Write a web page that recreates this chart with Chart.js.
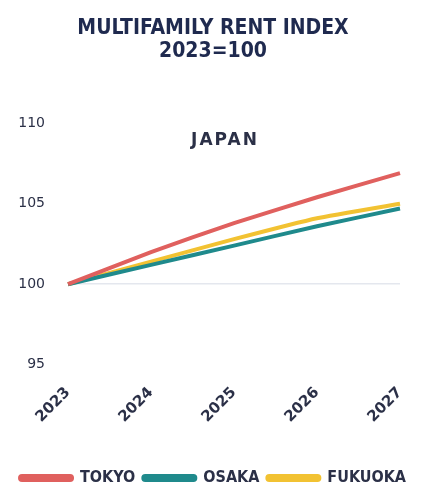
<!DOCTYPE html>
<html>
<head>
<meta charset="utf-8">
<script src="https://cdn.jsdelivr.net/npm/chart.js@4"></script>
<style>
  html, body { margin: 0; padding: 0; background: #fff; }
  #wrap { width: 426px; height: 492px; }
</style>
</head>
<body>
<div id="wrap"><canvas id="rentChart"></canvas></div>
<script>
const years = ['2023', '2024', '2025', '2026', '2027'];
const tokyo = [100, 102.0, 103.8, 105.4, 106.9];
const osaka = [100, 101.2, 102.4, 103.6, 104.7];
const fukuoka = [100, 101.4, 102.8, 104.1, 105.0];
const yTicks = [95, 100, 105, 110];

const navy = '#1f2a4f';
const tickColor = '#2b3047';
const narrow = "'Liberation Sans Narrow', 'DejaVu Sans Condensed', sans-serif";
const plain = "'DejaVu Sans', sans-serif";

// draws the "JAPAN" label inside the plot area
const regionLabel = {
    id: 'regionLabel',
    afterDraw(chart) {
        const { ctx, chartArea } = chart;
        ctx.save();
        ctx.font = 'bold 17px ' + plain;
        ctx.fillStyle = tickColor;
        ctx.textAlign = 'center';
        ctx.textBaseline = 'middle';
        ctx.letterSpacing = '2px';
        ctx.fillText('JAPAN', (chartArea.left + chartArea.right) / 2 - 9, chartArea.top + 17);
        ctx.restore();
    }
};

function makeSet(label, data, color) {
    return {
        label: label,
        data: data,
        borderColor: color,
        backgroundColor: color,
        borderWidth: 4,
        pointRadius: 0,
        tension: 0.12
    };
}

const ctx = document.getElementById('rentChart').getContext('2d');
new Chart(ctx, {
    type: 'line',
    data: {
        labels: years,
        datasets: [
            makeSet('TOKYO', tokyo, '#e0605e'),
            makeSet('OSAKA', osaka, '#1f8a8c'),
            makeSet('FUKUOKA', fukuoka, '#f2c232')
        ]
    },
    options: {
        responsive: true,
        maintainAspectRatio: false,
        animation: false,
        layout: { padding: { left: 0, right: 0, top: 17, bottom: -4 } },
        plugins: {
            title: {
                display: true,
                text: ['MULTIFAMILY RENT INDEX', '2023=100'],
                color: navy,
                font: { family: narrow, size: 21, weight: 'bold', lineHeight: 1.1 },
                padding: { top: 0, bottom: 60 }
            },
            legend: {
                position: 'bottom',
                labels: {
                    boxWidth: 52,
                    boxHeight: 4,
                    useBorderRadius: true,
                    borderRadius: 2,
                    color: tickColor,
                    padding: 8,
                    font: { family: narrow, size: 16, weight: 'bold' }
                }
            },
            tooltip: { enabled: false }
        },
        scales: {
            x: {
                offset: false,
                grid: { display: false },
                border: { display: false },
                afterFit(axis) {
                    axis.height += 25;   // gap between the year labels and the legend
                },
                ticks: {
                    color: tickColor,
                    maxRotation: 45,
                    minRotation: 45,
                    padding: 11,
                    font: { family: plain, size: 15, weight: 'bold' }
                }
            },
            y: {
                min: 95,
                max: 110,
                afterBuildTicks(axis) {
                    axis.ticks = yTicks.map(v => ({ value: v }));
                },
                afterFit(axis) {
                    axis.width = 68;
                },
                grid: {
                    drawTicks: false,
                    color: c => c.tick && c.tick.value === 100 ? '#e4e7ee' : 'rgba(0,0,0,0)',
                    lineWidth: 1.5
                },
                border: { display: false },
                ticks: {
                    color: tickColor,
                    padding: 23,
                    font: { family: plain, size: 14 }
                }
            },
            // empty right axis, only keeps the plot off the right edge
            yRight: {
                position: 'right',
                min: 95,
                max: 110,
                grid: { display: false },
                border: { display: false },
                ticks: { display: false },
                afterFit(axis) {
                    axis.width = 26;
                }
            }
        }
    },
    plugins: [regionLabel]
});
</script>
</body>
</html>
